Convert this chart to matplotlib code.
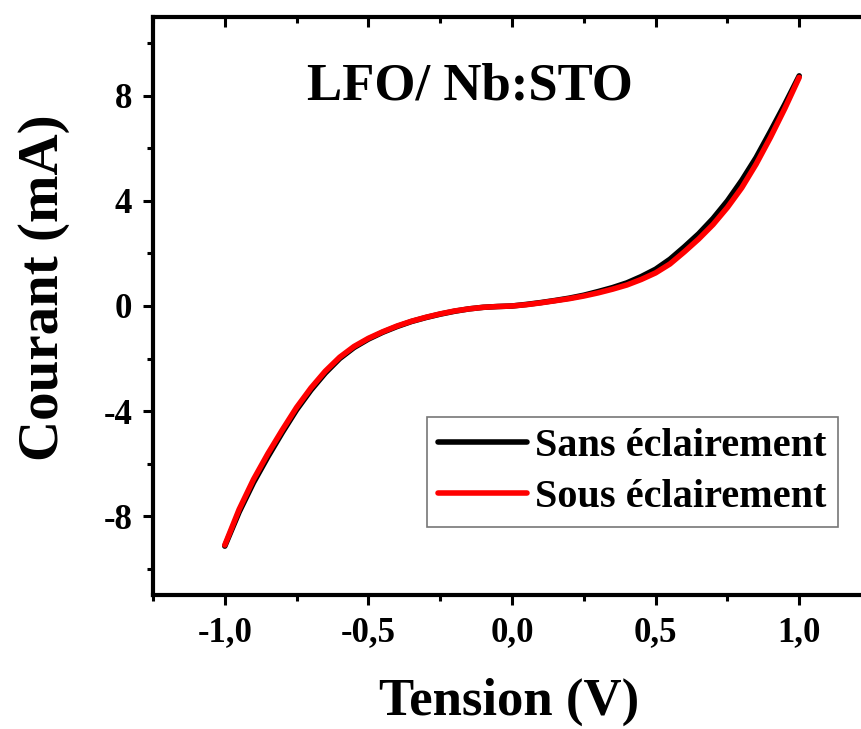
import numpy as np
import matplotlib
matplotlib.use("Agg")
import matplotlib.pyplot as plt
from matplotlib.ticker import MultipleLocator, FuncFormatter

# I-V curves, LFO / Nb:STO
tension = [-1.00, -0.95, -0.90, -0.85, -0.80, -0.75, -0.70, -0.65, -0.60, -0.55,
           -0.50, -0.45, -0.40, -0.35, -0.30, -0.25, -0.20, -0.15, -0.10, -0.05,
           0.00, 0.05, 0.10, 0.15, 0.20, 0.25, 0.30, 0.35, 0.40, 0.45,
           0.50, 0.55, 0.60, 0.65, 0.70, 0.75, 0.80, 0.85, 0.90, 0.95, 1.00]
courant_sans = [-9.14, -7.84, -6.72, -5.74, -4.82, -3.95, -3.20, -2.55, -2.00, -1.58,
                -1.26, -1.00, -0.78, -0.59, -0.44, -0.31, -0.20, -0.11, -0.05, -0.02,
                0.00, 0.06, 0.13, 0.21, 0.30, 0.41, 0.55, 0.70, 0.88, 1.12,
                1.40, 1.78, 2.25, 2.75, 3.33, 4.00, 4.78, 5.65, 6.65, 7.68, 8.76]
courant_sous = [-9.10, -7.74, -6.60, -5.62, -4.72, -3.86, -3.12, -2.48, -1.95, -1.54,
                -1.23, -0.98, -0.76, -0.58, -0.43, -0.30, -0.19, -0.11, -0.05, -0.02,
                0.00, 0.05, 0.12, 0.20, 0.28, 0.38, 0.50, 0.64, 0.80, 1.01,
                1.26, 1.60, 2.06, 2.55, 3.10, 3.75, 4.50, 5.40, 6.42, 7.52, 8.70]
labels = ["Sans éclairement", "Sous éclairement"]
titre = "LFO/ Nb:STO"

plt.rcParams['font.family'] = ['Liberation Serif', 'DejaVu Serif']
plt.rcParams['font.weight'] = 'bold'

fig = plt.figure(figsize=(8.62, 7.29), dpi=100)
ax = fig.add_axes([153/862, 1 - 595/729, 718/862, 578/729])

ax.plot(tension, courant_sans, color='black', lw=4, label=labels[0], solid_capstyle='round')
ax.plot(tension, courant_sous, color='#ff0000', lw=4, label=labels[1], solid_capstyle='round')

ax.set_xlim(-1.25, 1.25)
ax.set_ylim(-11, 11)
ax.xaxis.set_major_locator(MultipleLocator(0.5))
ax.xaxis.set_minor_locator(MultipleLocator(0.25))
ax.yaxis.set_major_locator(MultipleLocator(4))
ax.yaxis.set_minor_locator(MultipleLocator(2))
ax.xaxis.set_major_formatter(FuncFormatter(lambda v, p: f"{v:.1f}".replace('.', ',')))
ax.yaxis.set_major_formatter(FuncFormatter(lambda v, p: f"{v:.0f}"))

for s in ax.spines.values():
    s.set_linewidth(3)
ax.tick_params(which='major', direction='out', length=7, width=2.2, labelsize=25, pad=8)
ax.tick_params(which='minor', direction='out', length=4, width=2.2)
ax.tick_params(which='both', top=True, right=True)
# ticks on the top and right side point inward
for t in ax.xaxis.get_major_ticks() + ax.xaxis.get_minor_ticks():
    t.tick2line.set_marker(3)
for t in ax.yaxis.get_major_ticks() + ax.yaxis.get_minor_ticks():
    t.tick2line.set_marker(0)
for lab in ax.get_xticklabels() + ax.get_yticklabels():
    lab.set_fontweight('bold')

ax.set_xlabel("Tension (V)", fontsize=38, fontweight='bold')
ax.set_ylabel("Courant (mA)", fontsize=41, fontweight='bold')
ax.xaxis.set_label_coords(0.496, -0.143)
ax.yaxis.set_label_coords(-0.116, 0.531)

ax.text(-0.146, 8.34, titre, fontsize=38, fontweight='bold', ha='center', va='center')

leg = ax.legend(loc='upper left', bbox_to_anchor=(0.3816, 0.308), borderaxespad=0,
                prop={'weight': 'bold', 'size': 29}, frameon=True, fancybox=False,
                handlelength=2.2, handletextpad=0.2, labelspacing=0.33, borderpad=0.28)
leg.get_frame().set_edgecolor('#555555')
leg.get_frame().set_linewidth(1.2)

fig.savefig("out.png", dpi=100)
